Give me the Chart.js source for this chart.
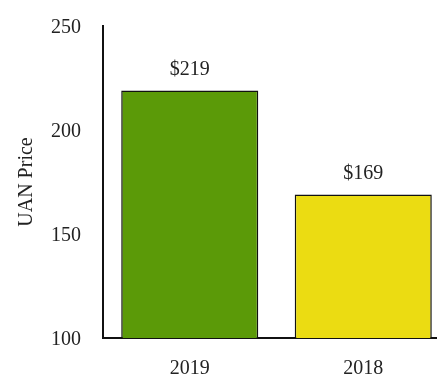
<!DOCTYPE html>
<html>
<head>
<meta charset="utf-8">
<script src="https://cdn.jsdelivr.net/npm/chart.js@4/dist/chart.umd.min.js"></script>
<style>
  html, body { margin: 0; padding: 0; background: #fff; overflow: hidden; }
  #wrap { width: 450px; height: 383px; }
</style>
</head>
<body>
<div id="wrap"><canvas id="myChart" width="450" height="383"></canvas></div>
<script>
const years = ['2019', '2018'];
const prices = [219, 169];
const barColors = ['#5b9a08', '#ebdc12'];
const yTicks = [100, 150, 200, 250];

const serif = "'Liberation Serif', 'Times New Roman', serif";

// draws "$xxx" above each bar
const valueLabels = {
    id: 'valueLabels',
    afterDatasetsDraw(chart) {
        const ctx = chart.ctx;
        const meta = chart.getDatasetMeta(0);
        ctx.save();
        ctx.font = '20px ' + serif;
        ctx.fillStyle = '#222';
        ctx.textAlign = 'center';
        ctx.textBaseline = 'alphabetic';
        meta.data.forEach(function(bar, i) {
            ctx.fillText('$' + prices[i], bar.x, bar.y - 15);
        });
        ctx.restore();
    }
};

new Chart(document.getElementById('myChart'), {
    type: 'bar',
    data: {
        labels: years,
        datasets: [{
            data: prices,
            backgroundColor: barColors,
            borderColor: '#111',
            borderWidth: 1.5,
            categoryPercentage: 1,
            barPercentage: 0.79
        }]
    },
    options: {
        responsive: false,
        animation: false,
        layout: { padding: { top: 26, left: 0, right: 0, bottom: 0 } },
        plugins: { legend: { display: false }, tooltip: { enabled: false } },
        scales: {
            x: {
                grid: { display: false, drawTicks: false },
                border: { display: true, color: '#111', width: 2 },
                ticks: { color: '#222', font: { family: serif, size: 20 }, padding: 19 },
                afterFit(scale) { scale.height = 45; }
            },
            y: {
                min: 100,
                max: 250,
                afterBuildTicks(scale) { scale.ticks = yTicks.map(v => ({ value: v })); },
                grid: { display: false, drawTicks: false },
                border: { display: true, color: '#111', width: 2 },
                ticks: { color: '#222', font: { family: serif, size: 20 }, padding: 22, labelOffset: 2 },
                title: {
                    display: true,
                    text: 'UAN Price',
                    color: '#222',
                    font: { family: serif, size: 20 },
                    padding: { top: 15, bottom: 0 }
                },
                afterFit(scale) {
                    scale.width = 103;
                    // top label may sit above the plot edge
                    scale.paddingTop = 0;
                    scale.paddingBottom = 0;
                }
            }
        }
    },
    plugins: [valueLabels]
});
</script>
</body>
</html>
